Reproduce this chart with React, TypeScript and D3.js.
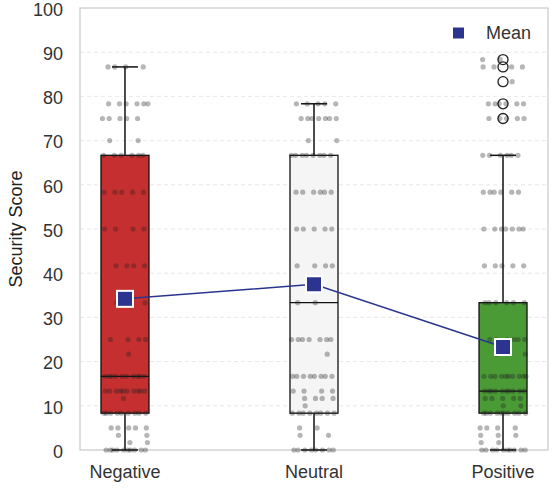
import { useEffect, useRef } from 'react';
import * as d3 from 'd3';

const CATEGORIES = ['Negative', 'Neutral', 'Positive'];
const BOX_COLORS = ['#c62f2f', '#f5f5f5', '#4a9a36'];

// box stats: [q1, median, q3, whiskerLow, whiskerHigh]
const BOX_STATS = [
  [8.33, 16.67, 66.67, 0, 86.67],
  [8.33, 33.33, 66.67, 0, 78.33],
  [8.33, 13.33, 33.33, 0, 66.67],
];
const MEANS = [34.2, 37.5, 23.3];
const OUTLIERS = [[], [], [75, 78.33, 83.33, 86.67, 88.33]];

// strip points: [value, count]
const POINTS_NEGATIVE: [number, number][] = [
  [0, 10], [1.67, 2], [3.33, 2], [5, 5], [8.33, 9], [11.67, 1], [13.33, 10], [16.67, 10],
  [21.67, 1], [25, 4], [33.33, 2], [41.67, 4], [50, 4], [58.33, 5], [66.67, 6], [70, 2],
  [75, 5], [78.33, 6], [86.67, 4],
];
const POINTS_NEUTRAL: [number, number][] = [
  [0, 8], [3.33, 2], [5, 2], [8.33, 8], [10, 1], [11.67, 4], [13.33, 4], [16.67, 8],
  [21.67, 1], [25, 7], [33.33, 2], [41.67, 4], [50, 5], [58.33, 6], [66.67, 8], [70, 2],
  [75, 7], [78.33, 5],
];
const POINTS_POSITIVE: [number, number][] = [
  [0, 10], [1.67, 2], [3.33, 3], [5, 4], [8.33, 10], [10, 2], [11.67, 5], [13.33, 10],
  [16.67, 10], [21.67, 2], [25, 6], [33.33, 6], [41.67, 5], [50, 7], [58.33, 6], [66.67, 6],
  [75, 5], [78.33, 6], [83.33, 1], [86.67, 4], [88.33, 2],
];
const POINTS = [POINTS_NEGATIVE, POINTS_NEUTRAL, POINTS_POSITIVE];
const Y_TICKS = [0, 10, 20, 30, 40, 50, 60, 70, 80, 90, 100];

const FONT = '"Liberation Sans", Arial, sans-serif';
const MEAN_COLOR = '#2b3590';

export default function App() {
  const ref = useRef<SVGSVGElement>(null);

  useEffect(() => {
    if (!ref.current) return;
    const svg = d3.select(ref.current);
    svg.selectAll('*').remove();

    const W = 554, H = 489;
    const margin = { top: 8, right: 6, bottom: 39, left: 80 };
    const width = W - margin.left - margin.right;
    const height = H - margin.top - margin.bottom;

    const g = svg.append('g').attr('transform', `translate(${margin.left},${margin.top})`);

    const x = d3.scalePoint<string>().domain(CATEGORIES).range([0, width]).padding(0.238);
    const y = d3.scaleLinear().domain([0, 100]).range([height, 0]);
    const boxW = 48;
    const capW = 26;

    // grid
    g.append('g').selectAll('line').data(Y_TICKS.slice(1, -1)).join('line')
      .attr('x1', 0).attr('x2', width)
      .attr('y1', d => y(d)).attr('y2', d => y(d))
      .attr('stroke', '#e2e2e2').attr('stroke-dasharray', '4,3').attr('stroke-width', 0.8);

    // frame
    g.append('rect').attr('x', 0).attr('y', 0).attr('width', width).attr('height', height)
      .attr('fill', 'none').attr('stroke', '#c8c8c8').attr('stroke-width', 1.2);

    // y ticks
    g.append('g').selectAll('text').data(Y_TICKS).join('text')
      .attr('x', -17).attr('y', d => y(d)).attr('dy', '0.43em')
      .attr('text-anchor', 'end').attr('font-family', FONT).attr('font-size', 18)
      .attr('fill', '#333').text(d => d);

    // y label
    g.append('text').attr('transform', 'rotate(-90)')
      .attr('x', -height / 2).attr('y', -58)
      .attr('text-anchor', 'middle').attr('font-family', FONT).attr('font-size', 18)
      .attr('fill', '#222').text('Security Score');

    // x labels
    g.append('g').selectAll('text').data(CATEGORIES).join('text')
      .attr('x', d => x(d)!).attr('y', height + 28)
      .attr('text-anchor', 'middle').attr('font-family', FONT).attr('font-size', 18)
      .attr('fill', '#333').text(d => d);

    // boxes
    CATEGORIES.forEach((cat, i) => {
      const cx = x(cat)!;
      const [q1, med, q3, lo, hi] = BOX_STATS[i];
      const bg = g.append('g');
      bg.append('line').attr('x1', cx).attr('x2', cx).attr('y1', y(q3)).attr('y2', y(hi))
        .attr('stroke', '#111').attr('stroke-width', 1.5);
      bg.append('line').attr('x1', cx).attr('x2', cx).attr('y1', y(q1)).attr('y2', y(lo))
        .attr('stroke', '#111').attr('stroke-width', 1.5);
      [lo, hi].forEach(v => {
        bg.append('line').attr('x1', cx - capW / 2).attr('x2', cx + capW / 2)
          .attr('y1', y(v)).attr('y2', y(v)).attr('stroke', '#111').attr('stroke-width', 1.5);
      });
      bg.append('rect').attr('x', cx - boxW / 2).attr('y', y(q3))
        .attr('width', boxW).attr('height', y(q1) - y(q3))
        .attr('fill', BOX_COLORS[i]).attr('stroke', '#111').attr('stroke-width', 1.3);
      bg.append('line').attr('x1', cx - boxW / 2).attr('x2', cx + boxW / 2)
        .attr('y1', y(med)).attr('y2', y(med)).attr('stroke', '#111').attr('stroke-width', 1.3);
      OUTLIERS[i].forEach(v => {
        bg.append('circle').attr('cx', cx).attr('cy', y(v)).attr('r', 5)
          .attr('fill', 'none').attr('stroke', '#222').attr('stroke-width', 1.3);
      });
    });

    // strip points (deterministic jitter)
    CATEGORIES.forEach((cat, i) => {
      const cx = x(cat)!;
      const pts: { v: number; dx: number }[] = [];
      POINTS[i].forEach(([v, n], j) => {
        for (let k = 0; k < n; k++) {
          const f = ((k + 1) * 0.6180339 + j * 0.37 + i * 0.21) % 1;
          pts.push({ v, dx: (f - 0.5) * 46 });
        }
      });
      g.append('g').selectAll('circle').data(pts).join('circle')
        .attr('cx', d => cx + d.dx).attr('cy', d => y(d.v)).attr('r', 2.6)
        .attr('fill', '#222').attr('opacity', 0.33);
    });

    // mean line + markers
    const meanLine = d3.line<number>().x((_, i) => x(CATEGORIES[i])!).y(d => y(d));
    g.append('path').datum(MEANS).attr('d', meanLine)
      .attr('fill', 'none').attr('stroke', MEAN_COLOR).attr('stroke-width', 1.5);
    g.append('g').selectAll('rect').data(MEANS).join('rect')
      .attr('x', (_, i) => x(CATEGORIES[i])! - 8).attr('y', d => y(d) - 8)
      .attr('width', 16).attr('height', 16)
      .attr('fill', MEAN_COLOR).attr('stroke', '#fff').attr('stroke-width', 2);

    // legend
    const lg = g.append('g').attr('transform', `translate(${width - 95},${25})`);
    lg.append('rect').attr('x', 0).attr('y', -5.5).attr('width', 11).attr('height', 11)
      .attr('fill', MEAN_COLOR);
    lg.append('text').attr('x', 33).attr('y', 0).attr('dy', '0.35em')
      .attr('font-family', FONT).attr('font-size', 18).attr('fill', '#333').text('Mean');
  }, []);

  return (
    <div style={{ position: 'absolute', left: 0, top: 0, background: '#fff' }}>
      <svg ref={ref} width={554} height={489} style={{ display: 'block' }} />
    </div>
  );
}
